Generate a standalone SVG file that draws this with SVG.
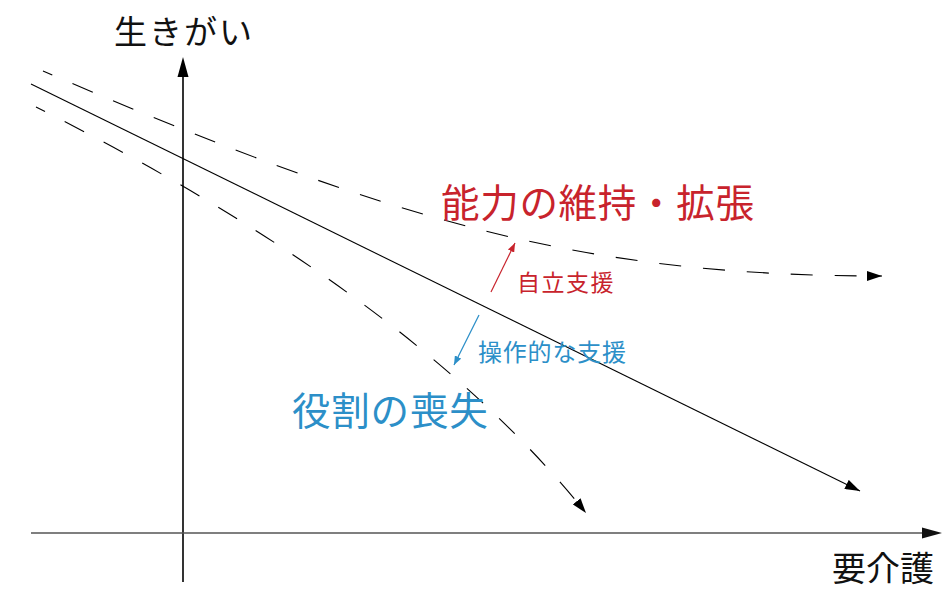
<svg xmlns="http://www.w3.org/2000/svg" width="944" height="600" viewBox="0 0 944 600">
<style>
.ln{fill:none;stroke:#000;stroke-width:1.1}
.dash{stroke-dasharray:22 22;stroke-dashoffset:12}
.t{font-family:"Noto Sans CJK JP","Noto Sans CJK SC",sans-serif}
.blk{fill:#111}
.red{fill:#C8232C}
.blue{fill:#2C8FC8}
</style>
<defs>
<marker id="ah" markerUnits="userSpaceOnUse" markerWidth="16" markerHeight="10" refX="15" refY="5" orient="auto"><path d="M0,0 L15,5 L0,10 z" fill="#000"/></marker>
<marker id="ahs" markerUnits="userSpaceOnUse" markerWidth="10" markerHeight="7" refX="9" refY="3.5" orient="auto"><path d="M0,0 L9,3.5 L0,7 z" fill="#C8232C"/></marker>
<marker id="ahb" markerUnits="userSpaceOnUse" markerWidth="10" markerHeight="7" refX="9" refY="3.5" orient="auto"><path d="M0,0 L9,3.5 L0,7 z" fill="#2C8FC8"/></marker>
</defs>
<rect width="944" height="600" fill="#fff"/>
<g id="axes">
<line x1="183" y1="582" x2="183" y2="76" stroke="#000" stroke-width="1.6"/>
<path d="M183,57 L188.5,77 L177.5,77 z" fill="#000"/>
<line x1="31" y1="533" x2="923" y2="533" stroke="#555" stroke-width="1.6"/>
<path d="M942,533 L922,527.5 L922,538.5 z" fill="#111"/>
</g>
<g id="connectors">
<path class="ln" d="M31,84 L860,491" marker-end="url(#ah)"/>
<path class="ln dash" d="M43,71 C393,221.5 582,276 882,276" marker-end="url(#ah)"/>
<path class="ln dash" d="M36,107 Q411,295 586,513" marker-end="url(#ah)"/>
<line x1="491" y1="292" x2="515" y2="243" stroke="#C8232C" stroke-width="1.2" marker-end="url(#ahs)"/>
<line x1="479" y1="315" x2="454" y2="365" stroke="#2C8FC8" stroke-width="1.2" marker-end="url(#ahb)"/>
</g>
<g id="label-y"><text class="t blk" x="114" y="44" font-size="33" letter-spacing="2">生きがい</text></g>
<g id="label-x"><text class="t blk" x="832" y="581" font-size="34">要介護</text></g>
<g id="label-keep"><text class="t red" x="441" y="217" font-size="38.5" letter-spacing="0.7">能力の維持・拡張</text></g>
<g id="label-jiritsu"><text class="t red" x="517" y="291" font-size="23" letter-spacing="1.5">自立支援</text></g>
<g id="label-sousa"><text class="t blue" x="478" y="361" font-size="24" letter-spacing="0.8">操作的な支援</text></g>
<g id="label-loss"><text class="t blue" x="292" y="425" font-size="38.5" letter-spacing="0.8">役割の喪失</text></g>
</svg>
